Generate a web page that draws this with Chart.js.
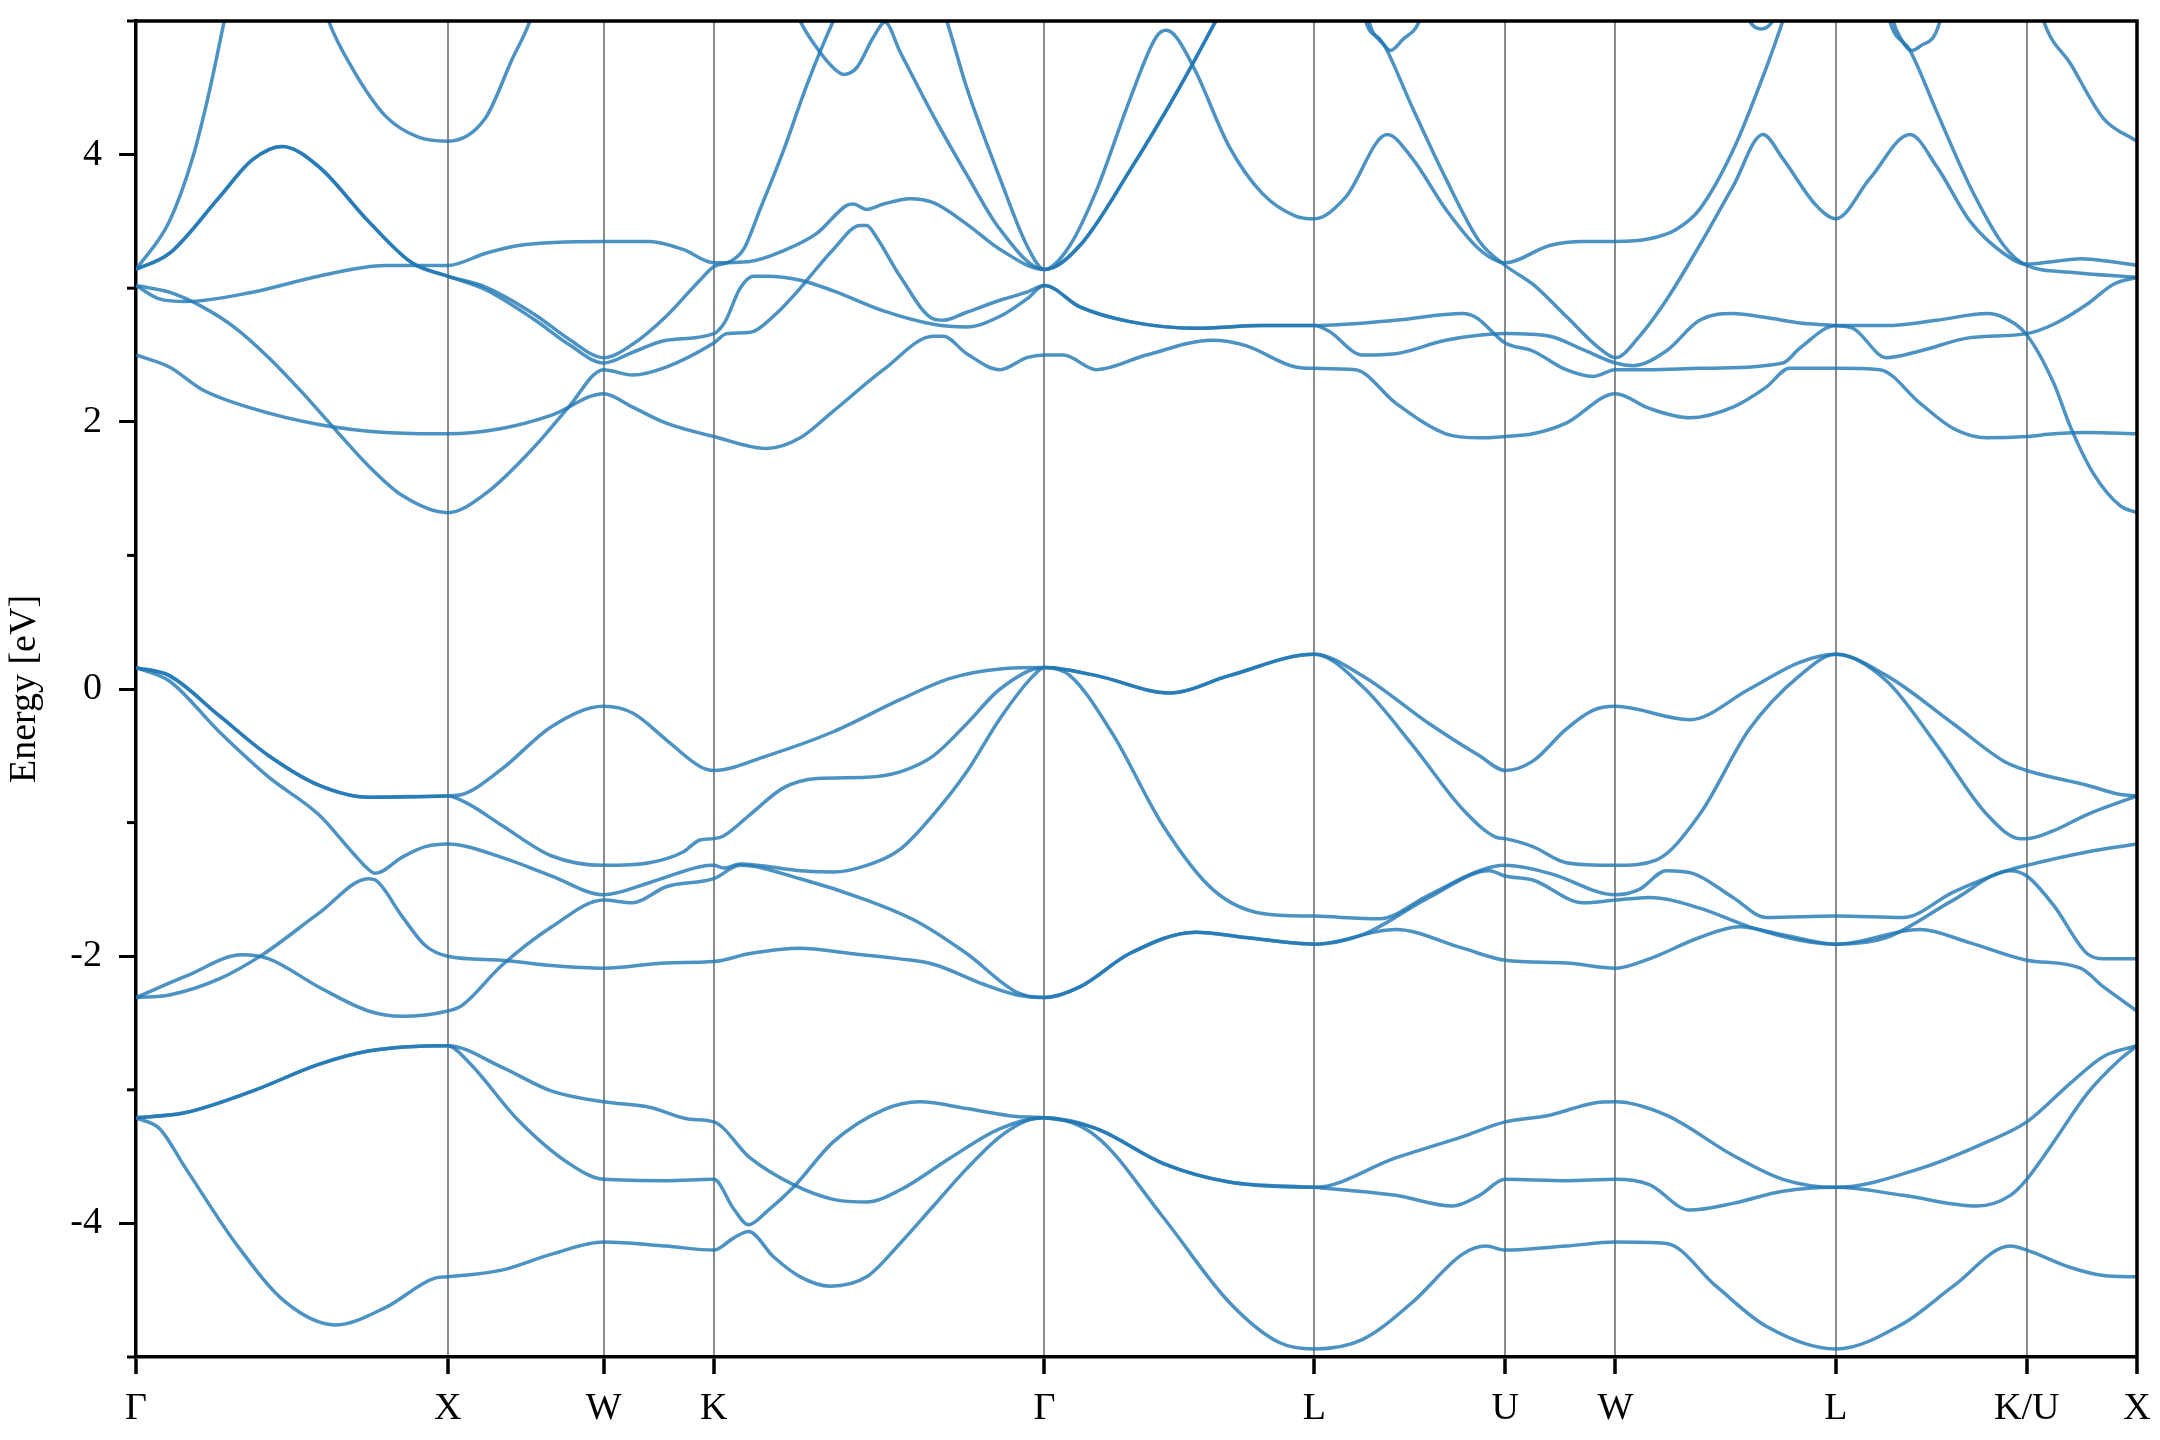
<!DOCTYPE html>
<html>
<head>
<meta charset="utf-8">
<script src="https://cdn.jsdelivr.net/npm/chart.js@4.4.1/dist/chart.umd.min.js"></script>
<style>
  html, body { margin: 0; padding: 0; background: #fff; }
</style>
</head>
<body>
<canvas id="chart" width="2160" height="1440"></canvas>
<script>
// high-symmetry path (k in units of 2pi/a along the path)
const kTicks = [0, 1, 1.5, 1.8536, 2.9142, 3.7802, 4.3926, 4.7462, 5.4533, 6.0657, 6.4193];
const kLabels = ['Γ', 'X', 'W', 'K', 'Γ', 'L', 'U', 'W', 'L', 'K/U', 'X'];
const energyTicks = [-4, -2, 0, 2, 4];
const minorTicks = [-5, -3, -1, 1, 3, 5];

// valence bands, [k, E]
const v1 = [[0,0.16],[0.107,0.10],[0.267,-0.20],[0.426,-0.50],[0.586,-0.72],[0.746,-0.81],[1,-0.80],
  [1.045,-0.79],[1.173,-0.60],[1.334,-0.28],[1.5,-0.13],
  [1.593,-0.18],[1.701,-0.38],[1.809,-0.58],[1.8536,-0.61],
  [2.024,-0.50],[2.237,-0.32],[2.451,-0.08],[2.612,0.08],[2.772,0.15],[2.9142,0.16],
  [3.081,0.10],[3.315,-0.03],[3.507,0.10],[3.7802,0.26],
  [3.934,0.10],[4.149,-0.26],[4.310,-0.50],[4.3926,-0.61],
  [4.481,-0.54],[4.588,-0.30],[4.674,-0.16],[4.7462,-0.13],
  [4.984,-0.23],[5.176,0.00],[5.337,0.20],[5.4533,0.26],
  [5.616,0.10],[5.830,-0.26],[5.992,-0.54],[6.0657,-0.61],
  [6.259,-0.72],[6.366,-0.79],[6.4193,-0.80]];
const v2 = [[0,0.16],[0.107,0.10],[0.267,-0.20],[0.426,-0.50],[0.586,-0.72],[0.746,-0.81],[1,-0.80],
  [1.066,-0.86],[1.173,-1.02],[1.334,-1.25],[1.5,-1.32],
  [1.647,-1.30],[1.755,-1.22],[1.809,-1.13],[1.8536,-1.12],
  [1.885,-1.10],[1.970,-0.94],[2.077,-0.74],[2.184,-0.67],[2.344,-0.66],[2.451,-0.62],[2.558,-0.50],[2.665,-0.26],[2.772,0.00],[2.9142,0.16],
  [3.081,0.10],[3.315,-0.03],[3.507,0.10],[3.7802,0.26],
  [3.934,0.02],[4.095,-0.42],[4.256,-0.90],[4.364,-1.11],[4.3926,-1.12],
  [4.481,-1.18],[4.588,-1.30],[4.7462,-1.32],
  [4.877,-1.28],[5.016,-0.94],[5.176,-0.30],[5.337,0.10],[5.4533,0.26],
  [5.616,0.06],[5.777,-0.42],[5.938,-0.94],[6.045,-1.12],[6.0657,-1.12],
  [6.152,-1.06],[6.259,-0.94],[6.4193,-0.80]];
const v3 = [[0,0.16],[0.107,0.06],[0.267,-0.32],[0.426,-0.66],[0.586,-0.94],[0.693,-1.22],[0.741,-1.34],[0.768,-1.38],[0.853,-1.26],[0.928,-1.18],[1,-1.16],
  [1.173,-1.26],[1.334,-1.40],[1.5,-1.54],
  [1.647,-1.45],[1.809,-1.33],[1.8536,-1.32],
  [1.885,-1.34],[1.938,-1.31],[2.131,-1.36],[2.237,-1.37],[2.344,-1.32],[2.451,-1.20],[2.558,-0.94],[2.665,-0.62],[2.772,-0.22],[2.879,0.10],[2.9142,0.16],
  [2.996,0.10],[3.134,-0.34],[3.294,-1.02],[3.454,-1.50],[3.613,-1.68],[3.7802,-1.70],
  [3.988,-1.72],[4.149,-1.54],[4.310,-1.36],[4.3926,-1.32],
  [4.535,-1.38],[4.7462,-1.54],
  [4.823,-1.50],[4.909,-1.36],[4.994,-1.38],[5.123,-1.56],[5.230,-1.71],[5.4533,-1.70],
  [5.669,-1.71],[5.830,-1.52],[6.002,-1.36],[6.0657,-1.32],
  [6.259,-1.22],[6.4193,-1.16]];
const v4 = [[0,-2.31],[0.107,-2.29],[0.267,-2.17],[0.405,-1.99],[0.586,-1.68],[0.746,-1.42],[0.768,-1.43],[0.853,-1.70],[0.928,-1.92],[1,-2.00],
  [1.173,-2.03],[1.334,-2.07],[1.5,-2.09],
  [1.701,-2.05],[1.8536,-2.04],
  [1.970,-1.98],[2.131,-1.94],[2.291,-1.98],[2.451,-2.02],[2.558,-2.06],[2.719,-2.21],[2.826,-2.29],[2.9142,-2.31],
  [3.028,-2.23],[3.188,-1.98],[3.400,-1.82],[3.560,-1.86],[3.7802,-1.91],
  [4.041,-1.80],[4.256,-1.94],[4.3926,-2.03],
  [4.588,-2.05],[4.7462,-2.09],
  [4.855,-2.02],[5.016,-1.86],[5.144,-1.78],[5.283,-1.84],[5.4533,-1.91],
  [5.723,-1.80],[5.884,-1.90],[6.0657,-2.03],
  [6.238,-2.09],[6.312,-2.23],[6.4193,-2.41]];
const v5 = [[0,-2.31],[0.160,-2.15],[0.341,-1.99],[0.426,-2.02],[0.586,-2.23],[0.746,-2.41],[0.853,-2.45],[1,-2.41],
  [1.045,-2.37],[1.173,-2.07],[1.334,-1.78],[1.5,-1.58],
  [1.593,-1.60],[1.701,-1.48],[1.8536,-1.42],
  [1.938,-1.32],[2.131,-1.42],[2.344,-1.58],[2.505,-1.74],[2.665,-1.98],[2.826,-2.27],[2.9142,-2.31],
  [3.028,-2.23],[3.188,-1.98],[3.400,-1.82],[3.560,-1.86],[3.7802,-1.91],
  [3.934,-1.84],[4.149,-1.56],[4.342,-1.36],[4.3926,-1.40],
  [4.481,-1.43],[4.642,-1.60],[4.7462,-1.58],
  [4.855,-1.56],[5.016,-1.64],[5.176,-1.78],[5.337,-1.88],[5.4533,-1.91],
  [5.616,-1.86],[5.830,-1.58],[6.013,-1.36],[6.0657,-1.40],
  [6.152,-1.62],[6.259,-1.98],[6.312,-2.02],[6.4193,-2.02]];
const v6 = [[0,-3.21],[0.160,-3.17],[0.373,-3.01],[0.586,-2.81],[0.746,-2.71],[1,-2.67],
  [1.173,-2.83],[1.334,-3.01],[1.5,-3.09],
  [1.647,-3.13],[1.777,-3.22],[1.8536,-3.24],
  [1.970,-3.51],[2.109,-3.71],[2.237,-3.82],[2.344,-3.84],[2.451,-3.75],[2.612,-3.51],[2.772,-3.29],[2.9142,-3.21],
  [3.081,-3.29],[3.294,-3.55],[3.507,-3.69],[3.7802,-3.73],
  [4.041,-3.51],[4.256,-3.35],[4.3926,-3.24],
  [4.535,-3.19],[4.674,-3.10],[4.7462,-3.09],
  [4.909,-3.19],[5.123,-3.49],[5.283,-3.67],[5.4533,-3.73],
  [5.723,-3.59],[5.938,-3.39],[6.0657,-3.24],
  [6.206,-2.95],[6.312,-2.75],[6.4193,-2.67]];
const v7 = [[0,-3.21],[0.160,-3.17],[0.373,-3.01],[0.586,-2.81],[0.746,-2.71],[1,-2.67],
  [1.066,-2.79],[1.227,-3.23],[1.388,-3.55],[1.5,-3.67],
  [1.701,-3.68],[1.8536,-3.67],
  [1.917,-3.89],[1.965,-4.01],[2.024,-3.91],[2.109,-3.73],[2.237,-3.39],[2.398,-3.15],[2.515,-3.09],[2.665,-3.14],[2.826,-3.20],[2.9142,-3.21],
  [3.081,-3.29],[3.294,-3.55],[3.507,-3.69],[3.7802,-3.73],
  [4.041,-3.79],[4.224,-3.87],[4.310,-3.79],[4.3926,-3.67],
  [4.588,-3.68],[4.7462,-3.67],
  [4.855,-3.71],[4.984,-3.90],[5.123,-3.85],[5.283,-3.76],[5.4533,-3.73],
  [5.669,-3.79],[5.906,-3.87],[6.013,-3.79],[6.0657,-3.67],
  [6.152,-3.39],[6.259,-3.03],[6.366,-2.77],[6.4193,-2.67]];
const v8 = [[0,-3.21],[0.075,-3.29],[0.160,-3.59],[0.320,-4.15],[0.480,-4.59],[0.640,-4.76],[0.800,-4.63],[0.959,-4.41],[1,-4.40],
  [1.173,-4.35],[1.334,-4.23],[1.5,-4.14],
  [1.701,-4.17],[1.8536,-4.20],
  [1.917,-4.11],[1.965,-4.06],[2.045,-4.25],[2.131,-4.40],[2.227,-4.47],[2.344,-4.40],[2.451,-4.15],[2.558,-3.87],[2.665,-3.59],[2.772,-3.35],[2.858,-3.23],[2.9142,-3.21],
  [3.081,-3.35],[3.294,-3.95],[3.507,-4.59],[3.666,-4.89],[3.7802,-4.94],
  [3.934,-4.87],[4.095,-4.59],[4.256,-4.23],[4.331,-4.17],[4.3926,-4.20],
  [4.588,-4.17],[4.7462,-4.14],
  [4.909,-4.15],[5.069,-4.47],[5.230,-4.77],[5.4533,-4.94],
  [5.669,-4.75],[5.830,-4.47],[6.013,-4.17],[6.0657,-4.20],
  [6.206,-4.33],[6.312,-4.39],[6.4193,-4.40]];

// conduction bands
const c1 = [[0,2.50],[0.107,2.41],[0.213,2.24],[0.373,2.10],[0.586,1.98],[0.800,1.92],[1,1.91],
  [1.173,1.95],[1.334,2.05],[1.5,2.21],
  [1.593,2.11],[1.701,1.99],[1.8536,1.89],
  [2.024,1.80],[2.131,1.88],[2.237,2.08],[2.398,2.39],[2.558,2.64],[2.590,2.64],[2.665,2.51],[2.772,2.39],[2.858,2.48],[2.9142,2.50],
  [2.975,2.50],[3.081,2.39],[3.241,2.50],[3.454,2.61],[3.560,2.57],[3.720,2.41],[3.7802,2.40],
  [3.912,2.39],[4.041,2.14],[4.202,1.91],[4.310,1.88],[4.3926,1.89],
  [4.481,1.91],[4.588,1.99],[4.7462,2.21],
  [4.855,2.10],[4.984,2.03],[5.123,2.11],[5.230,2.26],[5.305,2.40],[5.4533,2.40],
  [5.594,2.39],[5.723,2.14],[5.830,1.95],[5.938,1.88],[6.0657,1.89],
  [6.152,1.91],[6.259,1.92],[6.4193,1.91]];
const c2 = [[0,3.02],[0.107,2.97],[0.213,2.86],[0.320,2.70],[0.426,2.48],[0.533,2.22],[0.640,1.94],[0.746,1.67],[0.853,1.45],[1,1.32],
  [1.120,1.46],[1.281,1.82],[1.388,2.11],[1.5,2.39],
  [1.593,2.35],[1.701,2.41],[1.8536,2.59],
  [1.895,2.66],[1.970,2.67],[2.045,2.79],[2.131,3.00],[2.163,3.09],[2.237,3.29],[2.323,3.47],[2.344,3.47],[2.376,3.38],[2.451,3.09],[2.558,2.77],[2.590,2.76],[2.665,2.82],[2.772,2.91],[2.858,2.97],[2.9142,3.02],
  [3.028,2.86],[3.188,2.75],[3.400,2.70],[3.613,2.72],[3.7802,2.72],
  [4.041,2.76],[4.256,2.81],[4.299,2.78],[4.3926,2.59],
  [4.481,2.53],[4.588,2.39],[4.674,2.34],[4.7462,2.39],
  [4.855,2.39],[5.016,2.40],[5.283,2.44],[5.337,2.55],[5.4533,2.72],
  [5.616,2.72],[5.777,2.76],[5.938,2.81],[5.992,2.78],[6.0657,2.65],
  [6.152,2.29],[6.206,1.96],[6.280,1.61],[6.366,1.37],[6.4193,1.32]];
const c3 = [[0,3.02],[0.075,2.92],[0.160,2.90],[0.373,2.97],[0.586,3.09],[0.800,3.17],[1,3.17],
  [1.120,3.26],[1.227,3.32],[1.5,3.35],
  [1.647,3.35],[1.755,3.29],[1.8536,3.19],
  [1.970,3.20],[2.077,3.28],[2.184,3.41],[2.280,3.62],[2.301,3.63],[2.344,3.59],[2.398,3.63],[2.483,3.67],[2.558,3.64],[2.665,3.48],[2.772,3.29],[2.9142,3.14],
  [3.028,3.32],[3.188,3.88],[3.347,4.50],[3.464,5.00],[3.51,5.20]];
const c4 = [[0,3.14],[0.107,3.26],[0.267,3.68],[0.373,3.96],[0.469,4.06],[0.586,3.91],[0.746,3.50],[0.885,3.19],[1,3.09],
  [1.120,3.01],[1.281,2.80],[1.388,2.62],[1.5,2.48],
  [1.593,2.58],[1.701,2.79],[1.809,3.06],[1.8536,3.16],
  [1.906,3.20],[1.949,3.29],[2.002,3.59],[2.077,4.03],[2.152,4.52],[2.237,5.00],[2.28,5.20]];
const c5 = [[0,3.14],[0.107,3.26],[0.267,3.68],[0.373,3.96],[0.469,4.06],[0.586,3.91],[0.746,3.50],[0.885,3.19],[1,3.09],
  [1.120,2.99],[1.281,2.76],[1.388,2.58],[1.5,2.44],
  [1.593,2.52],[1.701,2.61],[1.8536,2.66],
  [1.890,2.75],[1.938,3.00],[1.981,3.09],[2.024,3.09],[2.131,3.06],[2.237,2.98],[2.398,2.83],[2.558,2.73],[2.665,2.71],[2.772,2.79],[2.858,2.92],[2.9142,3.02],
  [3.028,2.86],[3.188,2.75],[3.400,2.70],[3.613,2.72],[3.7802,2.72],
  [3.826,2.68],[3.934,2.50],[4.041,2.51],[4.202,2.61],[4.3926,2.66],
  [4.535,2.64],[4.642,2.54],[4.7462,2.44],
  [4.802,2.42],[4.909,2.53],[5.016,2.76],[5.123,2.81],[5.230,2.78],[5.337,2.74],[5.4533,2.72],
  [5.508,2.70],[5.616,2.48],[5.723,2.53],[5.884,2.63],[6.0657,2.66],
  [6.152,2.73],[6.259,2.88],[6.344,3.03],[6.4193,3.08]];
const c6 = [[0,3.14],[0.107,3.50],[0.181,3.97],[0.235,4.47],[0.283,5.00],[0.31,5.30]];
const c7 = [[0.58,5.30],[0.618,5.00],[0.693,4.65],[0.800,4.29],[0.906,4.13],[1,4.10],
  [1.120,4.27],[1.206,4.71],[1.264,5.00],[1.29,5.20]];
const c8 = [[2.10,5.20],[2.131,5.00],[2.184,4.80],[2.237,4.65],[2.270,4.60],[2.312,4.65],[2.366,4.88],[2.403,4.99],[2.451,4.77],[2.558,4.29],[2.665,3.85],[2.772,3.44],[2.9142,3.14],
  [2.996,3.32],[3.081,3.73],[3.188,4.41],[3.273,4.88],[3.305,4.93],[3.337,4.88],[3.400,4.62],[3.507,4.06],[3.613,3.71],[3.720,3.54],[3.7802,3.52],
  [3.880,3.68],[4.014,4.15],[4.095,3.97],[4.202,3.59],[4.310,3.29],[4.3926,3.19],
  [4.535,3.32],[4.642,3.35],[4.7462,3.35],
  [4.855,3.37],[4.941,3.44],[5.016,3.59],[5.123,4.03],[5.230,4.65],[5.283,5.00],[5.31,5.20]];
const c9 = [[2.57,5.20],[2.601,5.00],[2.665,4.50],[2.772,3.82],[2.858,3.32],[2.9142,3.14],
  [3.028,3.32],[3.188,3.88],[3.347,4.50],[3.464,5.00],[3.51,5.20]];
const c10 = [[3.94,5.20],[3.955,5.00],[4.009,4.80],[4.095,4.35],[4.202,3.82],[4.310,3.35],[4.3926,3.17],
  [4.481,3.03],[4.588,2.79],[4.695,2.55],[4.7462,2.48],
  [4.823,2.64],[4.909,2.91],[5.016,3.32],[5.123,3.76],[5.219,4.15],[5.283,3.97],[5.390,3.62],[5.4533,3.52],
  [5.562,3.82],[5.691,4.15],[5.777,3.91],[5.884,3.50],[5.992,3.26],[6.0657,3.18],
  [6.152,3.20],[6.238,3.22],[6.334,3.20],[6.4193,3.17]];
const c11 = [[5.61,5.20],[5.626,5.00],[5.691,4.78],[5.777,4.32],[5.884,3.76],[5.992,3.32],[6.0657,3.17],
  [6.206,3.12],[6.4193,3.08]];
const c12 = [[6.10,5.20],[6.120,5.00],[6.206,4.68],[6.312,4.27],[6.4193,4.10]];
// small dips just under the top edge
const d1 = [[3.93,5.20],[3.945,5.00],[3.988,4.87],[4.025,4.78],[4.063,4.86],[4.117,5.00],[4.14,5.20]];
const d2 = [[5.16,5.10],[5.176,5.00],[5.214,4.94],[5.251,5.00],[5.27,5.10]];
const d3 = [[5.62,5.20],[5.637,5.00],[5.659,4.88],[5.696,4.78],[5.723,4.81],[5.787,5.00],[5.80,5.20]];

const bands = [v1, v2, v3, v4, v5, v6, v7, v8, c1, c2, c3, c4, c5, c6, c7, c8, c9, c10, c11, c12, d1, d2, d3];
const bandColor = 'rgba(31, 119, 180, 0.8)';
const serif = { family: "'Liberation Serif', 'DejaVu Serif', serif", size: 38 };

// top/right spines and the short minor ticks
const frame = {
  id: 'frame',
  afterDraw(chart) {
    const { ctx, chartArea: a } = chart;
    const y = chart.scales.y;
    ctx.save();
    ctx.strokeStyle = '#000';
    ctx.lineWidth = 3.5;
    ctx.beginPath();
    ctx.moveTo(a.left - 1.75, a.top);
    ctx.lineTo(a.right, a.top);
    ctx.lineTo(a.right, a.bottom + 1.75);
    ctx.stroke();
    ctx.lineWidth = 3;
    minorTicks.forEach(v => {
      const py = y.getPixelForValue(v);
      ctx.beginPath();
      ctx.moveTo(a.left - 9, py);
      ctx.lineTo(a.left, py);
      ctx.stroke();
    });
    ctx.restore();
  }
};

new Chart(document.getElementById('chart'), {
  type: 'line',
  data: {
    datasets: bands.map(b => ({
      data: b.map(([x, y]) => ({ x, y })),
      borderColor: bandColor,
      borderWidth: 3.5,
      pointRadius: 0,
      fill: false,
      cubicInterpolationMode: 'monotone'
    }))
  },
  options: {
    responsive: false,
    devicePixelRatio: 1,
    animation: false,
    events: [],
    layout: { padding: { top: 21, right: 23, bottom: 0, left: 0 } },
    plugins: {
      legend: { display: false },
      tooltip: { enabled: false }
    },
    scales: {
      x: {
        type: 'linear',
        min: 0,
        max: 6.4193,
        afterBuildTicks: s => { s.ticks = kTicks.map(value => ({ value })); },
        afterFit: s => { s.height = 83; s.paddingLeft = 0; s.paddingRight = 0; },
        ticks: {
          autoSkip: false,
          maxRotation: 0,
          minRotation: 0,
          padding: 12,
          color: '#000',
          font: serif,
          callback: (v, i) => kLabels[i]
        },
        grid: {
          color: 'rgba(0, 0, 0, 0.45)',
          lineWidth: 2,
          tickColor: '#000',
          tickWidth: 3.5,
          tickLength: 17
        },
        border: { display: true, color: '#000', width: 3.5 }
      },
      y: {
        min: -5,
        max: 5,
        afterFit: s => { s.width = 136; s.paddingTop = 0; s.paddingBottom = 0; },
        ticks: {
          stepSize: 1,
          autoSkip: false,
          padding: 17,
          color: '#000',
          font: serif,
          callback: v => energyTicks.includes(v) ? String(v) : ''
        },
        grid: {
          drawOnChartArea: false,
          tickLength: 17,
          tickWidth: 3,
          tickColor: c => energyTicks.includes(c.tick.value) ? '#000' : 'rgba(0, 0, 0, 0)'
        },
        border: { display: true, color: '#000', width: 3.5 },
        title: {
          display: true,
          text: 'Energy [eV]',
          color: '#000',
          font: serif,
          padding: { top: 2, bottom: 0 }
        }
      }
    }
  },
  plugins: [frame]
});
</script>
</body>
</html>
